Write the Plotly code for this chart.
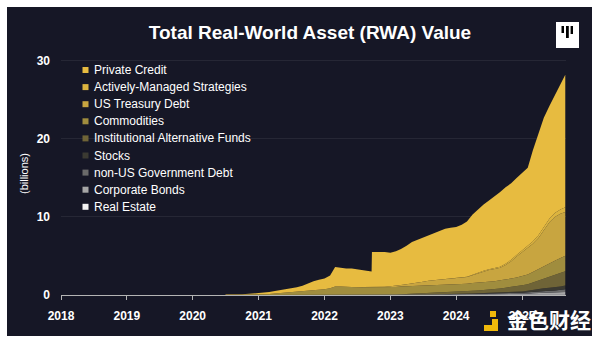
import plotly.graph_objects as go

# ---------------- data ----------------
dates = [
    "2020-07-01", "2020-10-01",
    "2021-01-01", "2021-02-01", "2021-03-01", "2021-04-01", "2021-05-01", "2021-06-01",
    "2021-07-01", "2021-08-01", "2021-09-01", "2021-10-01", "2021-11-01", "2021-12-01",
    "2022-01-01", "2022-02-01", "2022-03-01", "2022-04-01", "2022-05-01", "2022-06-01",
    "2022-07-01", "2022-08-01", "2022-09-01", "2022-09-19", "2022-09-21", "2022-10-01",
    "2022-11-01", "2022-12-01",
    "2023-01-01", "2023-02-01", "2023-03-01", "2023-04-01", "2023-05-01", "2023-06-01",
    "2023-07-01", "2023-08-01", "2023-09-01", "2023-10-01", "2023-11-01", "2023-12-01",
    "2024-01-01", "2024-02-01", "2024-03-01", "2024-04-01", "2024-05-01", "2024-06-01",
    "2024-07-01", "2024-08-01", "2024-09-01", "2024-10-01", "2024-11-01", "2024-12-01",
    "2025-01-01", "2025-02-01", "2025-03-01", "2025-04-01", "2025-05-01", "2025-06-01",
    "2025-07-01", "2025-08-01", "2025-08-28",
]

real_estate = [0.0, 0.0, 0.01, 0.01, 0.01, 0.01, 0.01, 0.01, 0.01, 0.01, 0.01, 0.01, 0.01, 0.01,
               0.02, 0.02, 0.02, 0.02, 0.02, 0.02, 0.02, 0.02, 0.02, 0.02, 0.02, 0.02, 0.02, 0.02,
               0.02, 0.02, 0.02, 0.02, 0.02, 0.02, 0.02, 0.02, 0.02, 0.02, 0.02, 0.02,
               0.03, 0.03, 0.03, 0.03, 0.03, 0.03, 0.03, 0.03, 0.03, 0.04, 0.04, 0.04,
               0.05, 0.05, 0.06, 0.06, 0.06, 0.07, 0.07, 0.08, 0.08]
corporate_bonds = [0.0, 0.0, 0.0, 0.0, 0.0, 0.0, 0.0, 0.0, 0.0, 0.0, 0.0, 0.0, 0.0, 0.0,
                   0.0, 0.0, 0.0, 0.0, 0.0, 0.0, 0.0, 0.0, 0.0, 0.0, 0.0, 0.0, 0.0, 0.0,
                   0.01, 0.01, 0.01, 0.02, 0.02, 0.02, 0.02, 0.03, 0.03, 0.03, 0.03, 0.03,
                   0.04, 0.04, 0.05, 0.05, 0.05, 0.06, 0.06, 0.07, 0.07, 0.08, 0.08, 0.09,
                   0.10, 0.12, 0.15, 0.18, 0.20, 0.21, 0.22, 0.25, 0.30]
non_us_gov_debt = [0.0, 0.0, 0.0, 0.0, 0.0, 0.0, 0.0, 0.0, 0.0, 0.0, 0.0, 0.0, 0.0, 0.0,
                   0.0, 0.0, 0.0, 0.0, 0.0, 0.0, 0.0, 0.0, 0.0, 0.0, 0.0, 0.0, 0.0, 0.0,
                   0.01, 0.01, 0.01, 0.01, 0.02, 0.02, 0.02, 0.02, 0.02, 0.03, 0.03, 0.03,
                   0.04, 0.05, 0.06, 0.07, 0.08, 0.09, 0.10, 0.10, 0.11, 0.12, 0.13, 0.14,
                   0.15, 0.17, 0.20, 0.25, 0.27, 0.28, 0.30, 0.32, 0.35]
stocks = [0.0, 0.0, 0.0, 0.0, 0.0, 0.0, 0.0, 0.0, 0.0, 0.0, 0.0, 0.0, 0.0, 0.0,
          0.01, 0.01, 0.01, 0.01, 0.01, 0.01, 0.01, 0.01, 0.01, 0.01, 0.01, 0.01, 0.01, 0.01,
          0.02, 0.02, 0.02, 0.02, 0.02, 0.02, 0.02, 0.02, 0.02, 0.02, 0.02, 0.02,
          0.03, 0.03, 0.04, 0.04, 0.05, 0.05, 0.06, 0.07, 0.08, 0.10, 0.12, 0.14,
          0.15, 0.20, 0.25, 0.30, 0.33, 0.36, 0.40, 0.45, 0.50]
institutional_alt_funds = [0.0, 0.0, 0.0, 0.0, 0.0, 0.0, 0.0, 0.0, 0.0, 0.0, 0.0, 0.0, 0.0, 0.0,
                           0.0, 0.0, 0.0, 0.0, 0.0, 0.0, 0.0, 0.0, 0.0, 0.0, 0.0, 0.0, 0.0, 0.0,
                           0.0, 0.02, 0.04, 0.06, 0.08, 0.10, 0.12, 0.15, 0.18, 0.20, 0.23, 0.26,
                           0.28, 0.30, 0.32, 0.35, 0.38, 0.40, 0.45, 0.50, 0.55, 0.60, 0.65, 0.72,
                           0.80, 0.85, 0.95, 1.00, 1.20, 1.40, 1.60, 1.70, 1.80]
commodities = [0.0, 0.02, 0.05, 0.08, 0.12, 0.17, 0.22, 0.28, 0.33, 0.40, 0.46, 0.52, 0.58, 0.62,
               0.70, 0.85, 1.05, 1.05, 1.00, 1.00, 0.95, 0.95, 0.95, 0.95, 0.95, 0.95, 0.95, 0.95,
               0.95, 0.95, 1.00, 1.00, 1.00, 0.95, 0.95, 0.95, 0.95, 0.95, 0.95, 0.95,
               0.95, 0.95, 0.95, 1.00, 1.00, 1.00, 1.00, 1.00, 1.05, 1.10, 1.10, 1.10,
               1.15, 1.25, 1.35, 1.50, 1.60, 1.70, 1.80, 1.90, 2.00]
us_treasury_debt = [0.0, 0.0, 0.0, 0.0, 0.0, 0.0, 0.0, 0.0, 0.0, 0.0, 0.0, 0.0, 0.0, 0.0,
                    0.0, 0.0, 0.01, 0.01, 0.01, 0.02, 0.02, 0.03, 0.03, 0.03, 0.03, 0.04, 0.05, 0.08,
                    0.10, 0.13, 0.17, 0.25, 0.35, 0.45, 0.55, 0.62, 0.66, 0.70, 0.72, 0.75,
                    0.78, 0.80, 0.85, 1.00, 1.20, 1.40, 1.50, 1.55, 1.60, 1.80, 2.20, 2.70,
                    3.10, 3.40, 3.60, 4.00, 4.70, 5.30, 5.60, 5.70, 5.60]
actively_managed = [0.0, 0.0, 0.0, 0.0, 0.0, 0.0, 0.0, 0.0, 0.0, 0.0, 0.0, 0.0, 0.0, 0.0,
                    0.0, 0.0, 0.0, 0.0, 0.0, 0.0, 0.0, 0.0, 0.0, 0.0, 0.0, 0.0, 0.0, 0.0,
                    0.0, 0.0, 0.0, 0.0, 0.0, 0.0, 0.0, 0.0, 0.0, 0.0, 0.0, 0.0,
                    0.01, 0.02, 0.03, 0.05, 0.07, 0.08, 0.10, 0.12, 0.14, 0.16, 0.18, 0.20,
                    0.22, 0.25, 0.30, 0.35, 0.40, 0.45, 0.50, 0.55, 0.60]
private_credit = [0.05, 0.08, 0.19, 0.21, 0.27, 0.32, 0.37, 0.46, 0.51, 0.59, 0.73, 0.97, 1.16, 1.32,
                  1.37, 1.62, 2.51, 2.41, 2.36, 2.35, 2.30, 2.19, 2.09, 1.99, 4.49, 4.48, 4.47, 4.44,
                  4.29, 4.44, 4.63, 4.92, 5.29, 5.52, 5.70, 5.89, 6.02, 6.25, 6.50, 6.54,
                  6.54, 6.78, 7.07, 7.71, 8.14, 8.49, 8.80, 9.16, 9.57, 9.80, 9.80, 9.87,
                  9.88, 10.01, 11.64, 12.86, 13.94, 14.43, 15.11, 16.05, 16.97]

# stacking order bottom -> top
series_names = ["Real Estate", "Corporate Bonds", "non-US Government Debt", "Stocks",
                "Institutional Alternative Funds", "Commodities", "US Treasury Debt",
                "Actively-Managed Strategies", "Private Credit"]
series_values = [real_estate, corporate_bonds, non_us_gov_debt, stocks,
                 institutional_alt_funds, commodities, us_treasury_debt,
                 actively_managed, private_credit]
series_colors = ["#f4f4f4", "#a6a6a6", "#6a6a6a", "#3b3a32",
                 "#6f6437", "#a08d3e", "#c8a540", "#dcb43f", "#e7bb40"]

year_ticks = ["2018", "2019", "2020", "2021", "2022", "2023", "2024", "2025"]
y_ticks = [0, 10, 20, 30]

# ---------------- layout helpers (pixel -> paper) ----------------
W, H = 600, 344
ML, MR, MT, MB = 61, 34, 53, 49
PW, PH = W - ML - MR, H - MT - MB


def px(x):
    return (x - ML) / PW


def py(y):
    return (H - MB - y) / PH


BG = "#161726"
FONT = "Liberation Sans, Arial, sans-serif"

fig = go.Figure()
for name, vals, col in zip(series_names, series_values, series_colors):
    fig.add_trace(go.Scatter(
        x=dates, y=vals, name=name, stackgroup="one", mode="lines",
        line=dict(width=0, color=col), fillcolor=col, showlegend=False,
        hoverinfo="skip",
    ))

shapes = [
    dict(type="rect", xref="paper", yref="paper", x0=px(7), x1=px(592), y0=py(336), y1=py(7),
         fillcolor=BG, line=dict(width=0), layer="below"),
    # logo box top right
    dict(type="rect", xref="paper", yref="paper", x0=px(556), x1=px(579), y0=py(48), y1=py(22),
         fillcolor="white", line=dict(width=0)),
    dict(type="rect", xref="paper", yref="paper", x0=px(561.5), x1=px(564), y0=py(33), y1=py(26),
         fillcolor="black", line=dict(width=0)),
    dict(type="rect", xref="paper", yref="paper", x0=px(566), x1=px(568.8), y0=py(38), y1=py(26),
         fillcolor="black", line=dict(width=0)),
    dict(type="rect", xref="paper", yref="paper", x0=px(570.6), x1=px(573), y0=py(34), y1=py(26),
         fillcolor="black", line=dict(width=0)),
    # watermark logo mark
    dict(type="rect", xref="paper", yref="paper", x0=px(490), x1=px(496), y0=py(317), y1=py(311),
         fillcolor="#f0b90b", line=dict(width=0)),
    dict(type="rect", xref="paper", yref="paper", x0=px(492), x1=px(498), y0=py(331), y1=py(319),
         fillcolor="#f0b90b", line=dict(width=0)),
    dict(type="rect", xref="paper", yref="paper", x0=px(484), x1=px(498), y0=py(331), y1=py(325),
         fillcolor="#f0b90b", line=dict(width=0)),
]

annotations = [
    dict(text="(billions)", xref="paper", yref="paper", x=px(24), y=0.5, textangle=-90,
         showarrow=False, xanchor="center", yanchor="middle",
         font=dict(family=FONT, size=11, color="white")),
    dict(text="金色财经", xref="paper", yref="paper", x=px(549), y=py(319),
         showarrow=False, xanchor="center", yanchor="middle",
         font=dict(family="Noto Sans CJK SC", size=21, color="white", weight="bold")),
]

# manual legend, top entry = Private Credit
legend_order = list(range(len(series_names)))[::-1]
for i, k in enumerate(legend_order):
    yc = 70 + i * 17.1
    shapes.append(dict(type="rect", xref="paper", yref="paper",
                       x0=px(82.5), x1=px(88.5), y0=py(yc + 3), y1=py(yc - 3),
                       fillcolor=series_colors[k], line=dict(width=0)))
    annotations.append(dict(text=series_names[k], xref="paper", yref="paper",
                            x=px(92), y=py(yc), showarrow=False,
                            xanchor="left", yanchor="middle",
                            font=dict(family=FONT, size=12, color="white")))

fig.update_layout(
    width=W, height=H,
    margin=dict(l=ML, r=MR, t=MT, b=MB, pad=0),
    paper_bgcolor="white", plot_bgcolor="rgba(0,0,0,0)",
    showlegend=False,
    title=dict(text="<b>Total Real-World Asset (RWA) Value</b>", x=px(310), xanchor="center",
               y=1 - 32 / H, yanchor="middle", xref="paper", yref="container",
               font=dict(family=FONT, size=19, color="white")),
    shapes=shapes, annotations=annotations,
    xaxis=dict(type="date", range=["2018-01-01", "2025-09-01"],
               tickvals=[f"{y}-01-01" for y in year_ticks], ticktext=year_ticks,
               showline=True, linecolor="#b4b4b4", linewidth=1,
               ticks="outside", ticklen=4, tickcolor="#b4b4b4",
               showgrid=False, zeroline=False, ticklabelstandoff=6,
               tickfont=dict(family=FONT, size=12, color="white", weight="bold")),
    yaxis=dict(range=[0, 31], tickvals=y_ticks, ticktext=[str(v) for v in y_ticks],
               showgrid=True, gridcolor="rgba(255,255,255,0.07)", gridwidth=1,
               zeroline=False, showline=False, ticks="", ticklabelstandoff=10,
               tickfont=dict(family=FONT, size=12, color="white", weight="bold")),
)

fig.write_html("out.html")
